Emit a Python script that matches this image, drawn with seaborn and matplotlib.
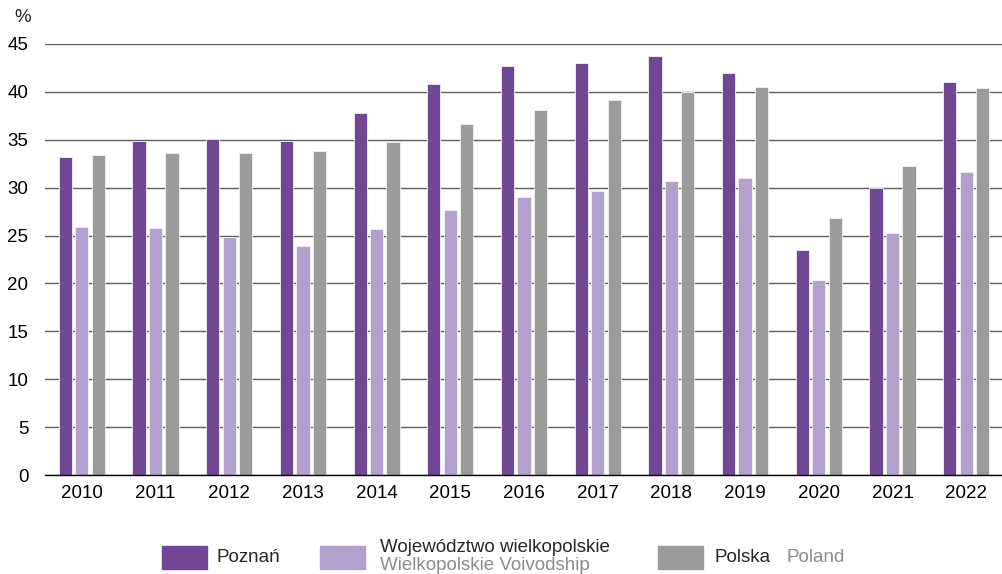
import matplotlib
matplotlib.use('Agg')
import matplotlib.pyplot as plt
from matplotlib.patches import Rectangle
import seaborn as sns
import pandas as pd

# dane
years = ['2010', '2011', '2012', '2013', '2014', '2015', '2016',
         '2017', '2018', '2019', '2020', '2021', '2022']
poznan = [33.2, 34.9, 35.1, 34.9, 37.8, 40.8, 42.7, 43.0, 43.7, 42.0, 23.5, 30.0, 41.0]
wlkp = [25.9, 25.8, 24.9, 23.9, 25.7, 27.7, 29.0, 29.6, 30.7, 31.0, 20.4, 25.3, 31.6]
polska = [33.4, 33.6, 33.6, 33.8, 34.8, 36.6, 38.1, 39.2, 40.0, 40.5, 26.8, 32.3, 40.4]
series = ['Poznań', 'Województwo wielkopolskie', 'Polska']
colors = ['#714795', '#b3a0cf', '#9b9b9b']

df = pd.DataFrame({'year': years * 3,
                   'value': poznan + wlkp + polska,
                   'series': [series[0]] * 13 + [series[1]] * 13 + [series[2]] * 13})

sns.set_style('white')
plt.rcParams['font.family'] = ['Liberation Sans', 'DejaVu Sans']
fs = 13.5

fig = plt.figure(figsize=(10.03, 5.74), dpi=100)
ax = fig.add_axes([45 / 1003, 99 / 574, 958 / 1003, 431 / 574])

sns.barplot(data=df, x='year', y='value', hue='series', palette=colors,
            width=0.67, gap=0.2, ax=ax, legend=False,
            edgecolor='#f2f2f2', linewidth=0.6, saturation=1)

ax.set_ylim(0, 45)
ax.set_xlim(-0.5, 12.5)
ax.set_yticks(range(0, 46, 5))
ax.yaxis.grid(True, color='#5f5f5f', linewidth=1)
ax.set_axisbelow(True)
ax.tick_params(axis='both', length=0, labelsize=fs, colors='black')
ax.tick_params(axis='x', pad=7)
ax.tick_params(axis='y', pad=12)
for s in ['top', 'right', 'left']:
    ax.spines[s].set_visible(False)
ax.spines['bottom'].set_color('black')
ax.spines['bottom'].set_linewidth(1)
ax.set_xlabel('')
ax.set_ylabel('')
fig.text(14 / 1003, 1 - 17 / 574, '%', fontsize=fs, va='center', ha='left')

# legenda
def swatch(x, c):
    fig.patches.append(Rectangle((x / 1003, 1 - 569 / 574), 45 / 1003, 23 / 574,
                                 transform=fig.transFigure, color=c))

swatch(162, colors[0])
fig.text(217 / 1003, 1 - 557 / 574, 'Poznań', fontsize=fs, va='center')
swatch(320, colors[1])
fig.text(380 / 1003, 1 - 548 / 574, 'Województwo wielkopolskie', fontsize=fs, va='center')
fig.text(380 / 1003, 1 - 566 / 574, 'Wielkopolskie Voivodship', fontsize=fs, va='center', color='#8c8c8c')
swatch(658, colors[2])
fig.text(715 / 1003, 1 - 557 / 574, 'Polska', fontsize=fs, va='center')
fig.text(787 / 1003, 1 - 557 / 574, 'Poland', fontsize=fs, va='center', color='#8c8c8c')

fig.savefig('out.png', dpi=100)
